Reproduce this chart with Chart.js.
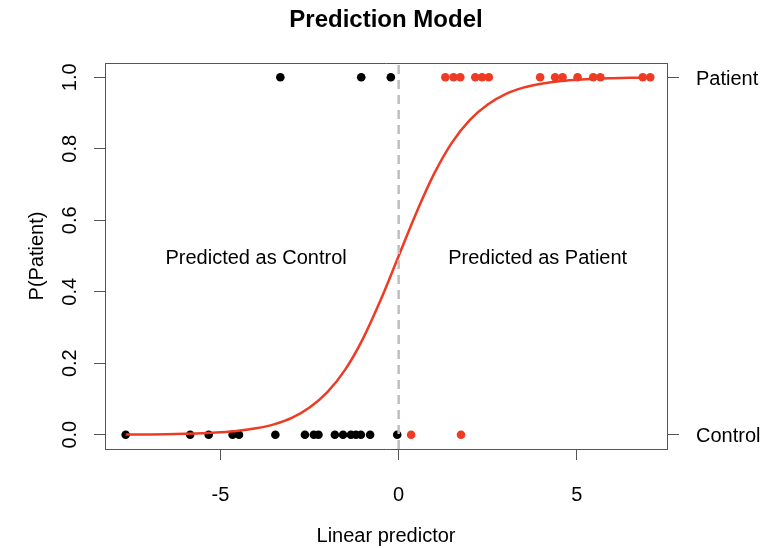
<!DOCTYPE html>
<html><head><meta charset="utf-8">
<script src="https://cdn.jsdelivr.net/npm/chart.js@4.4.0/dist/chart.umd.min.js"></script>
<style>html,body{margin:0;padding:0;background:#fff;}</style>
</head><body>
<canvas id="c" width="761" height="548"></canvas>
<script>
const chartTitle = 'Prediction Model';
const xAxisTitle = 'Linear predictor';
const yAxisTitle = 'P(Patient)';
const xTicks = [-5, 0, 5];
const yTicks = [0, 0.2, 0.4, 0.6, 0.8, 1.0];
const classTicks = [0, 1];
const classLabels = ['Control', 'Patient'];
const regionLabels = ['Predicted as Control', 'Predicted as Patient'];
const regionLabelX = [-4, 3.9];
const regionLabelY = [0.5, 0.5];

// observed points (x = linear predictor, y = outcome 0/1)
const redTopX = [1.31, 1.54, 1.73, 2.15, 2.34, 2.53, 3.97, 4.39, 4.60, 5.02, 5.46, 5.66, 6.85, 7.06];
const blackTopX = [-3.32, -1.05, -0.22];
const blackBottomX = [-7.66, -5.85, -5.33, -4.66, -4.48, -3.46, -2.63, -2.38, -2.25, -1.79, -1.56, -1.34, -1.20, -1.06, -0.80, -0.04];
const redBottomX = [0.35, 1.75];

// fitted probability curve
const curveX = [-7.66, -7.0, -6.5, -6.0, -5.5, -5.0, -4.5, -4.0, -3.5, -3.0, -2.5, -2.0, -1.5, -1.0, -0.5, 0, 0.5, 1.0, 1.5, 2.0, 2.5, 3.0, 3.5, 4.0, 4.5, 5.0, 5.5, 6.0, 6.5, 7.06];
const curveP = [0.0005, 0.0009, 0.0015, 0.0025, 0.004, 0.0067, 0.011, 0.018, 0.029, 0.047, 0.076, 0.119, 0.182, 0.269, 0.378, 0.5, 0.622, 0.731, 0.818, 0.881, 0.924, 0.953, 0.971, 0.982, 0.989, 0.993, 0.996, 0.9975, 0.9985, 0.9991];

const cutoffX = [0, 0];
const cutoffY = [-0.04, 1.04];

const xMin = -8.24, xMax = 7.53, yMin = -0.04, yMax = 1.04;

const RED = '#EE3B24';
const FRAME = '#555555';
const FONT = 'Liberation Sans, Arial, Helvetica, sans-serif';
const f20 = { family: FONT, size: 20 };

const pts = (xs, yv) => xs.map(v => ({ x: v, y: yv }));

const regionTextPlugin = {
  id: 'regionText',
  afterDatasetsDraw(chart) {
    const { ctx, scales } = chart;
    ctx.save();
    ctx.font = '20px ' + FONT;
    ctx.fillStyle = '#000';
    ctx.textAlign = 'center';
    ctx.textBaseline = 'middle';
    regionLabels.forEach((t, i) => {
      ctx.fillText(t, scales.x.getPixelForValue(regionLabelX[i]), scales.y.getPixelForValue(regionLabelY[i]) + 2);
    });
    ctx.restore();
  }
};

new Chart(document.getElementById('c'), {
  type: 'scatter',
  data: {
    datasets: [
      { label: 'cutoff', data: cutoffX.map((v, i) => ({ x: v, y: cutoffY[i] })), showLine: true,
        borderColor: '#BEBEBE', borderWidth: 2.5, borderDash: [9, 6], pointRadius: 0, order: 0 },
      { label: 'fit', data: curveX.map((v, i) => ({ x: v, y: curveP[i] })), showLine: true,
        borderColor: RED, borderWidth: 2.5, pointRadius: 0, cubicInterpolationMode: 'monotone', order: 1 },
      { label: 'patient predicted patient', data: pts(redTopX, 1), backgroundColor: RED, borderWidth: 0, pointRadius: 4.3, order: 2 },
      { label: 'patient predicted control', data: pts(blackTopX, 1), backgroundColor: '#000', borderWidth: 0, pointRadius: 4.3, order: 2 },
      { label: 'control predicted control', data: pts(blackBottomX, 0), backgroundColor: '#000', borderWidth: 0, pointRadius: 4.3, order: 2 },
      { label: 'control predicted patient', data: pts(redBottomX, 0), backgroundColor: RED, borderWidth: 0, pointRadius: 4.3, order: 2 }
    ]
  },
  options: {
    responsive: false,
    animation: false,
    layout: { padding: { left: 11, right: 0, top: 0, bottom: 0 } },
    plugins: {
      legend: { display: false },
      tooltip: { enabled: false },
      title: { display: true, text: chartTitle, color: '#000',
        font: { family: FONT, size: 24, weight: 'bold' }, padding: { top: 5.6, bottom: 28.6 } }
    },
    scales: {
      x: {
        type: 'linear', position: 'bottom', min: xMin, max: xMax,
        afterBuildTicks: s => { s.ticks = xTicks.map(v => ({ value: v })); },
        afterFit: s => { s.height = 99; },
        ticks: { font: f20, color: '#000', padding: 23, autoSkip: false, maxRotation: 0, minRotation: 0,
          callback: v => String(v) },
        grid: { drawOnChartArea: false, drawTicks: true, tickLength: 11, color: FRAME },
        border: { display: true, color: FRAME, width: 1 },
        title: { display: true, text: xAxisTitle, color: '#000', font: f20, padding: { top: 0, bottom: 0 } }
      },
      x2: {
        type: 'linear', position: 'top', min: xMin, max: xMax,
        afterFit: s => { s.height = 0; },
        ticks: { display: false },
        grid: { display: true, drawOnChartArea: false, drawTicks: false, color: FRAME },
        border: { display: true, color: FRAME, width: 1 }
      },
      y: {
        type: 'linear', position: 'left', min: yMin, max: yMax,
        afterBuildTicks: s => { s.ticks = yTicks.map(v => ({ value: v })); },
        afterFit: s => { s.width = 94; },
        ticks: { font: f20, color: '#000', padding: 10.1, autoSkip: false, minRotation: 90, maxRotation: 90,
          crossAlign: 'center', callback: v => Number(v).toFixed(1) },
        grid: { drawOnChartArea: false, drawTicks: true, tickLength: 11, color: FRAME },
        border: { display: true, color: FRAME, width: 1 },
        title: { display: true, text: yAxisTitle, color: '#000', font: f20, padding: { top: 14, bottom: 0 } }
      },
      y2: {
        type: 'linear', position: 'right', min: yMin, max: yMax,
        afterBuildTicks: s => { s.ticks = classTicks.map(v => ({ value: v })); },
        afterFit: s => { s.width = 94; },
        ticks: { font: f20, color: '#000', padding: 17, autoSkip: false, labelOffset: 2,
          callback: v => classLabels[classTicks.indexOf(v)] },
        grid: { drawOnChartArea: false, drawTicks: true, tickLength: 12, color: FRAME },
        border: { display: true, color: FRAME, width: 1 }
      }
    }
  },
  plugins: [regionTextPlugin]
});
</script>
</body></html>
